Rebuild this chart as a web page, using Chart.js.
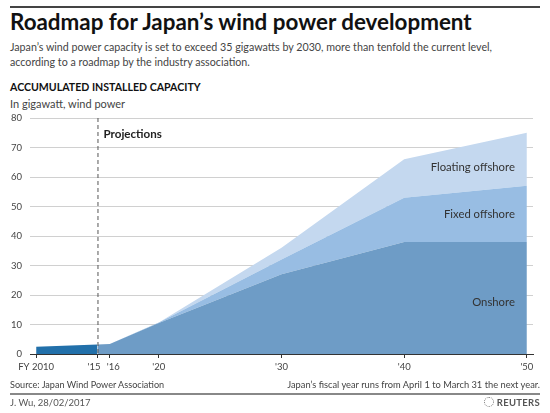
<!DOCTYPE html>
<html>
<head>
<meta charset="utf-8">
<script src="https://cdn.jsdelivr.net/npm/chart.js@4"></script>
<style>
  body { margin: 0; background: #fff; font-family: Lato, sans-serif; }
  #wrap { position: relative; width: 550px; height: 413px; overflow: hidden; }
  .t { position: absolute; white-space: nowrap; }
  .rule { position: absolute; left: 10px; width: 530px; background: #444; }
  #graf { position: absolute; left: 0; top: 100px; }
</style>
</head>
<body>
<div id="wrap">
  <div class="rule" style="top:6px;height:1.5px"></div>
  <div class="t" style="left:10px;top:8px;font-size:22.4px;font-weight:bold;color:#111">Roadmap for Japan’s wind power development</div>
  <div class="t" style="left:10px;top:39px;font-size:10.7px;line-height:15.3px;color:#444">Japan’s wind power capacity is set to exceed 35 gigawatts by 2030, more than tenfold the current level,<br>according to a roadmap by the industry association.</div>
  <div class="t" style="left:10px;top:81px;font-size:10.6px;font-weight:bold;color:#111">ACCUMULATED INSTALLED CAPACITY</div>
  <div class="t" style="left:10px;top:97px;font-size:11px;color:#444">In gigawatt, wind power</div>
  <canvas id="graf" width="550" height="280"></canvas>
  <div class="t" style="left:10px;top:379px;font-size:9.1px;color:#444">Source: Japan Wind Power Association</div>
  <div class="t" style="right:10px;top:379px;font-size:9.3px;color:#444">Japan’s fiscal year runs from April 1 to March 31 the next year.</div>
  <div class="rule" style="top:393px;height:2px;background:#888"></div>
  <div class="t" style="left:10px;top:397px;font-size:9.5px;color:#555">J. Wu, 28/02/2017</div>
  <div class="t" style="right:10px;top:397px;font-size:9.5px;font-weight:bold;color:#555;letter-spacing:0.3px">
    <span style="display:inline-block;width:8px;height:8px;border-radius:50%;border:1.5px dotted #777;vertical-align:-1px;margin-right:3px"></span>REUTERS</div>
</div>
<script>
// valores (GW)
const anosHistorico = [2010, 2015];
const historico = [2.5, 3.2];

const anosProjecao = [2015, 2016, 2020, 2030, 2040, 2050];
const onshore = [3.2, 3.4, 10.5, 27, 38, 38];
const fixedOffshore = [0, 0, 0.2, 5, 15, 19];
const floatingOffshore = [0, 0, 0, 4, 13, 18];

const xTicks = [2010, 2015, 2016, 2020, 2030, 2040, 2050];
const xLabels = ['FY 2010', "'15", "'16", "'20", "'30", "'40", "'50"];
const yTicks = [0, 10, 20, 30, 40, 50, 60, 70, 80];

const pares = (xs, ys) => xs.map((x, i) => ({ x: x, y: ys[i] }));

// '15 e '16 ficam colados, então os rótulos do eixo x são desenhados à mão
const alinhamento = { 2015: ['right', 3], 2016: ['left', -3] };

// linha tracejada + rótulos das áreas
const anotacoes = {
    id: 'anotacoes',
    afterDatasetsDraw(chart) {
        const { ctx, chartArea, scales } = chart;
        const x15 = scales.x.getPixelForValue(2015);
        ctx.save();
        ctx.strokeStyle = '#555';
        ctx.lineWidth = 1;
        ctx.setLineDash([4, 3]);
        ctx.beginPath();
        ctx.moveTo(x15 + 0.5, chartArea.top);
        ctx.lineTo(x15 + 0.5, chartArea.bottom);
        ctx.stroke();
        ctx.setLineDash([]);

        ctx.fillStyle = '#222';
        ctx.font = 'bold 11.6px Lato';
        ctx.textBaseline = 'middle';
        ctx.textAlign = 'left';
        ctx.fillText('Projections', x15 + 6, chartArea.top + 16);

        ctx.font = '11.3px Lato';
        ctx.fillStyle = '#333';
        ctx.textAlign = 'right';
        const xr = scales.x.getPixelForValue(2050) - 12;
        ctx.fillText('Floating offshore', xr, scales.y.getPixelForValue(63.3));
        ctx.fillText('Fixed offshore', xr, scales.y.getPixelForValue(47.2));
        ctx.fillText('Onshore', xr, scales.y.getPixelForValue(17.4));

        // rótulos do eixo x
        ctx.font = '9.5px Lato';
        ctx.fillStyle = '#444';
        ctx.textBaseline = 'middle';
        xTicks.forEach((v, i) => {
            const [al, dx] = alinhamento[v] || ['center', 0];
            ctx.textAlign = al;
            ctx.fillText(xLabels[i], scales.x.getPixelForValue(v) + dx, chartArea.bottom + 12.5);
        });
        ctx.restore();
    }
};

const ctx = document.getElementById('graf').getContext('2d');
const chart = new Chart(ctx, {
    type: 'line',
    data: {
        datasets: [
            {
                label: 'Onshore',
                data: pares(anosProjecao, onshore),
                backgroundColor: '#6e9cc6',
                fill: 'origin',
                stack: 'proj'
            },
            {
                label: 'Fixed offshore',
                data: pares(anosProjecao, fixedOffshore),
                backgroundColor: '#98bde3',
                fill: '-1',
                stack: 'proj'
            },
            {
                label: 'Floating offshore',
                data: pares(anosProjecao, floatingOffshore),
                backgroundColor: '#c4d8ef',
                fill: '-1',
                stack: 'proj'
            },
            {
                label: 'Historical',
                data: pares(anosHistorico, historico),
                backgroundColor: '#2270aa',
                fill: 'origin',
                stack: 'hist'
            }
        ]
    },
    options: {
        responsive: false,
        animation: false,
        devicePixelRatio: 1,
        layout: { padding: { top: 18, right: 17, left: 0, bottom: 0 } },
        elements: {
            line: { borderWidth: 0, tension: 0 },
            point: { radius: 0 }
        },
        scales: {
            x: {
                type: 'linear',
                min: 2009.5,
                max: 2050.5,
                afterBuildTicks: s => { s.ticks = xTicks.map(v => ({ value: v })); },
                afterFit: s => { s.height = 26; },
                ticks: { display: false },
                grid: { drawOnChartArea: false, tickLength: 4, color: '#333' },
                border: { color: '#333', width: 1 }
            },
            y: {
                stacked: true,
                min: 0,
                max: 80,
                afterBuildTicks: s => { s.ticks = yTicks.map(v => ({ value: v })); },
                afterFit: s => { s.width = 30; },
                ticks: {
                    padding: 8,
                    color: '#444',
                    font: { family: 'Lato', size: 9.5 }
                },
                grid: { drawTicks: false, color: '#d0d0d0' },
                border: { display: false }
            }
        },
        plugins: {
            legend: { display: false },
            tooltip: { enabled: false }
        }
    },
    plugins: [anotacoes]
});
</script>
</body>
</html>
